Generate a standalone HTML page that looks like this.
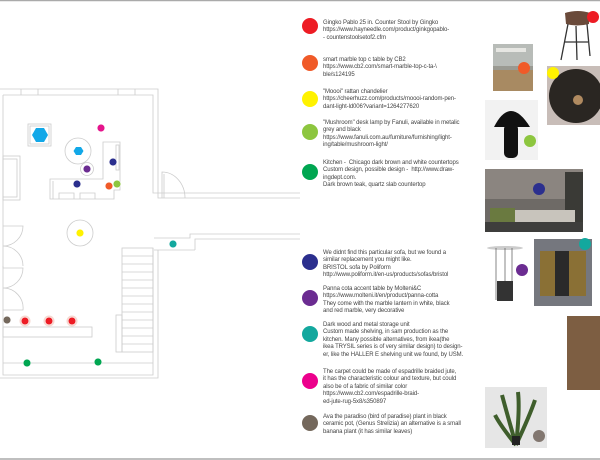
<!DOCTYPE html>
<html><head><meta charset="utf-8"><style>
html,body{margin:0;padding:0;background:#fff}
body{width:600px;height:460px;position:relative;overflow:hidden;font-family:"Liberation Sans",sans-serif}
.t{position:absolute;left:323px;font-size:6px;line-height:7.4px;color:#444;width:172px;letter-spacing:-0.1px}
</style></head><body>
<svg width="600" height="460" style="position:absolute;left:0;top:0">
<line x1="0" y1="0.5" x2="600" y2="0.5" stroke="#aaa" stroke-width="1.5"/>
<line x1="0" y1="459" x2="600" y2="459" stroke="#aaa" stroke-width="1.5"/>
<g fill="none" stroke="#ccc" stroke-width="0.8">
<path d="M0 89 H158 V198 H300"/>
<path d="M3 95 H153 V193 H300"/>
<path d="M21 89V95 M38 89V95 M118 89V95 M135 89V95"/>
<path d="M3 95 V375 H153 V248"/>
<path d="M0 378 H158 V250"/>
<path d="M162 198 V172 A23 26 0 0 1 185 198"/>
<path d="M164 198 V174"/>
<rect x="3" y="156" width="17" height="44"/><rect x="3" y="159" width="14" height="38"/>
<path d="M3 226 H23 A20 20 0 0 1 3 246 M3 246 A20 20 0 0 1 23 266 M3 266 V268 H23 A20 20 0 0 1 3 288 M3 288 A20 20 0 0 1 23 310 H3"/>
<path d="M154 238 H190 V234 H300"/>
<path d="M195 250 V239 H300"/>
<path d="M154 250 H195"/>
<rect x="122" y="248" width="31" height="104"/>
<path d="M122 256H153M122 264H153M122 272H153M122 280H153M122 288H153M122 296H153M122 304H153M122 312H153M122 320H153M122 328H153M122 336H153M122 344H153"/>
<rect x="116" y="315" width="6" height="37"/>
<rect x="3" y="327" width="89" height="10"/>
<line x1="3" y1="363" x2="153" y2="363"/>
<rect x="28" y="124" width="23" height="22"/><rect x="30" y="126" width="19" height="18"/>
<circle cx="78" cy="151" r="13"/>
<circle cx="87" cy="169" r="6.5"/>
<circle cx="80" cy="233" r="13"/>
<path d="M50 199 V179 H103 V142 H120 V190 H114 V199 Z"/>
<path d="M53 199 V181 M59 199 V193 H74 V199 M80 199 V193 H95 V199"/>
<rect x="116" y="145" width="3" height="25"/>
</g>
<polygon points="32,135 36,128 44,128 48,135 44,142 36,142" fill="#12a8e8"/>
<polygon points="73.5,151 76,147 81,147 83.5,151 81,155 76,155" fill="#12a8e8"/>
<g fill="#f6d8d0">
<circle cx="25" cy="321" r="5.5"/><circle cx="49" cy="321" r="5.5"/><circle cx="72" cy="321" r="5.5"/>
</g>
<g stroke="#fff" stroke-width="0.5">
<circle cx="101" cy="128" r="3.8" fill="#e5158c"/>
<circle cx="87" cy="169" r="3.8" fill="#6b2c91"/>
<circle cx="113" cy="162" r="3.8" fill="#2b2f8e"/>
<circle cx="77" cy="184" r="3.8" fill="#2b2f8e"/>
<circle cx="109" cy="186" r="3.8" fill="#f05a28"/>
<circle cx="117" cy="184" r="3.8" fill="#8dc63f"/>
<circle cx="80" cy="233" r="3.8" fill="#fff200"/>
<circle cx="173" cy="244" r="3.8" fill="#13a89e"/>
<circle cx="7" cy="320" r="3.8" fill="#74685c"/>
<circle cx="25" cy="321" r="3.8" fill="#ed1c24"/>
<circle cx="49" cy="321" r="3.8" fill="#ed1c24"/>
<circle cx="72" cy="321" r="3.8" fill="#ed1c24"/>
<circle cx="27" cy="363" r="3.8" fill="#00a651"/>
<circle cx="98" cy="362" r="3.8" fill="#00a651"/>
</g>
<circle cx="310" cy="26" r="8" fill="#ed1c24"/>
<circle cx="310" cy="63" r="8" fill="#f05a28"/>
<circle cx="310" cy="99" r="8" fill="#fff200"/>
<circle cx="310" cy="132" r="8" fill="#8dc63f"/>
<circle cx="310" cy="172" r="8" fill="#00a651"/>
<circle cx="310" cy="262" r="8" fill="#2b2f8e"/>
<circle cx="310" cy="298" r="8" fill="#6b2c91"/>
<circle cx="310" cy="334" r="8" fill="#13a89e"/>
<circle cx="310" cy="381" r="8" fill="#ec008c"/>
<circle cx="310" cy="423" r="8" fill="#74685c"/>
<g>
<path d="M565 13 Q578 9 590 13 L589 24 Q577 27 566 24 Z" fill="#6a4a3a"/>
<path d="M568 24 L561 60 M587 24 L590 56 M576 26 L577 60 M564 42 H588" stroke="#333" stroke-width="1.3"/>
<circle cx="593" cy="17" r="6" fill="#ed1c24"/>
<rect x="493" y="44" width="40" height="47" fill="#9a9a92"/>
<rect x="493" y="44" width="40" height="22" fill="#b8bcb8"/>
<rect x="493" y="70" width="40" height="21" fill="#a88a62"/>
<rect x="496" y="48" width="30" height="4" fill="#e6e6e2"/>
<circle cx="524" cy="68" r="6" fill="#f05a28"/>
<rect x="547" y="66" width="53" height="59" fill="#c8bdb8"/>
<circle cx="576" cy="96" r="27" fill="#2a2622"/>
<circle cx="578" cy="100" r="5" fill="#b08a60"/>
<circle cx="553" cy="73" r="6" fill="#fff200"/>
<rect x="485" y="100" width="53" height="60" fill="#f2f2f2"/>
<path d="M494 127 Q510 95 530 127 Z" fill="#111"/>
<rect x="504" y="124" width="14" height="34" rx="5" fill="#111"/>
<circle cx="530" cy="141" r="6" fill="#8dc63f"/>
<rect x="485" y="169" width="98" height="63" fill="#6e6a66"/>
<rect x="485" y="169" width="98" height="30" fill="#8b8580"/>
<rect x="565" y="172" width="18" height="55" fill="#3a3a36"/>
<rect x="505" y="210" width="70" height="12" fill="#c8c4bc"/>
<rect x="490" y="208" width="25" height="16" fill="#6a7a40"/>
<rect x="485" y="222" width="98" height="10" fill="#3e3e3c"/>
<circle cx="539" cy="189" r="6" fill="#2b2f8e"/>
<ellipse cx="505" cy="248" rx="18" ry="2" fill="#ccc"/>
<path d="M496 248 V300 M512 248 V300 M505 248 V300" stroke="#555" stroke-width="0.7"/>
<rect x="497" y="281" width="16" height="20" fill="#333"/>
<circle cx="522" cy="270" r="6" fill="#6b2c91"/>
<rect x="534" y="239" width="58" height="67" fill="#75777e"/>
<rect x="540" y="251" width="46" height="45" fill="#8a7035"/>
<rect x="555" y="251" width="14" height="45" fill="#2a2a2a"/>
<circle cx="585" cy="244" r="6" fill="#13a89e"/>
<rect x="567" y="316" width="33" height="74" fill="#7d5e42"/>
<rect x="485" y="387" width="62" height="61" fill="#e6e6e6"/>
<path d="M516 445 Q506 410 502 395 M516 445 Q520 410 518 392 M516 445 Q530 415 535 400 M516 445 Q500 425 495 415" stroke="#3f5e2c" stroke-width="4" fill="none"/>
<rect x="512" y="436" width="8" height="9" fill="#222"/>
<circle cx="539" cy="436" r="6" fill="#827770"/>
</g>
</svg>
<div class="t" style="top:20px">Gingko Pablo 25 in. Counter Stool by Gingko<br>https://www.hayneedle.com/product/ginkgopablo-<br>- countenstoolsetof2.cfm</div>
<div class="t" style="top:57px">smart marble top c table by CB2<br>https://www.cb2.com/smart-marble-top-c-ta-\<br>ble/s124195</div>
<div class="t" style="top:89px">"Moooi" rattan chandelier<br>https://cheerhuzz.com/products/moooi-random-pen-<br>dant-light-ld006?variant=1264277620</div>
<div class="t" style="top:120px">"Mushroom" desk lamp by Fanuli, available in metalic<br>grey and black<br>https://www.fanuli.com.au/furniture/furnishing/light-<br>ing/table/mushroom-light/</div>
<div class="t" style="top:160px">Kitchen -&nbsp; Chicago dark brown and white countertops<br>Custom design, possible design - &nbsp;http://www.draw-<br>ingdept.com.<br>Dark brown teak, quartz slab countertop</div>
<div class="t" style="top:250px">We didnt find this particular sofa, but we found a<br>similar replacement you might like.<br>BRISTOL sofa by Poliform<br>http://www.poliform.it/en-us/products/sofas/bristol</div>
<div class="t" style="top:286px">Panna cota accent table by Molteni&amp;C<br>https://www.molteni.it/en/product/panna-cotta<br>They come with the marble lantern in white, black<br>and red marble, very decorative</div>
<div class="t" style="top:322px">Dark wood and metal storage unit<br>Custom made shelving, in sam production as the<br>kitchen. Many possible alternatives, from ikea(the<br>ikea TRYSIL series is of very similar design) to design-<br>er, like the HALLER E shelving unit we found, by USM.</div>
<div class="t" style="top:369px">The carpet could be made of espadrille braided jute,<br>it has the characteristic colour and texture, but could<br>also be of a fabric of similar color<br>https://www.cb2.com/espadrille-braid-<br>ed-jute-rug-5x8/s350897</div>
<div class="t" style="top:414px">Ava the paradiso (bird of paradise) plant in black<br>ceramic pot, (Genus Strelizia) an alternative is a small<br>banana plant (it has similar leaves)</div>
</body></html>
